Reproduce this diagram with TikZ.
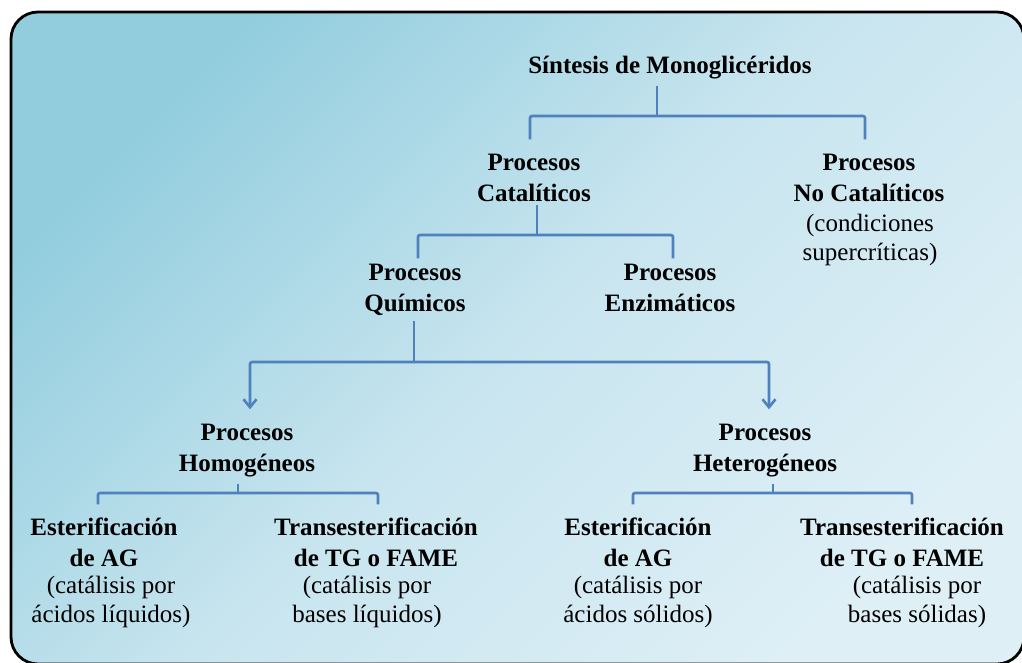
\documentclass[tikz,border=0pt]{standalone}
\usepackage{fontspec}
\setmainfont{Liberation Serif}
\usetikzlibrary{arrows.meta}
\definecolor{conncol}{RGB}{79,129,189}
\definecolor{bgA}{RGB}{146,205,222}
\definecolor{bgM}{RGB}{200,229,239}
\definecolor{bgB}{RGB}{222,239,246}
\begin{document}
\begin{tikzpicture}[x=1pt,y=-1pt,
  boldlbl/.style={font=\fontsize{25}{31}\selectfont\bfseries, align=center, inner sep=0pt, anchor=north},
  reglbl/.style={font=\fontsize{25}{29}\selectfont, align=center, inner sep=0pt, anchor=north},
  conn/.style={draw=conncol, line width=2.6pt, rounded corners=2pt},
  arr/.style={conn, -{Straight Barb[length=8pt,width=13pt]}}]
\useasboundingbox (0,0) rectangle (1022,663);
\begin{scope}
\clip (0,0) rectangle (1022,663);
\shade[top color=bgA, bottom color=bgB, middle color=bgM, shading angle=45, rounded corners=27pt] (11,12) rectangle (1024,664);
\draw[line width=2.8pt, rounded corners=27pt] (11,12) rectangle (1024,664);
\end{scope}

\node[boldlbl] (title) at (670,51.3) {\strut Síntesis de Monoglicéridos};
\node[boldlbl] (cat) at (534,148.3) {\strut Procesos\\\strut Catalíticos};
\node[boldlbl] (nocat) at (869,148.3) {\strut Procesos\\\strut No Catalíticos};
\node[reglbl] (nocatnote) at (870,210.7) {\strut (condiciones\\\strut supercríticas)};
\node[boldlbl] (quim) at (415,258.3) {\strut Procesos\\\strut Químicos};
\node[boldlbl] (enz) at (670,258.3) {\strut Procesos\\\strut Enzimáticos};
\node[boldlbl] (homo) at (247,418.3) {\strut Procesos\\\strut Homogéneos};
\node[boldlbl] (hetero) at (765,418.3) {\strut Procesos\\\strut Heterogéneos};
\node[boldlbl] (estL) at (104,513.3) {\strut Esterificación\\\strut de AG};
\node[reglbl] (estLn) at (111,572.7) {\strut (catálisis por\\\strut ácidos líquidos)};
\node[boldlbl] (traL) at (376,513.3) {\strut Transesterificación\\\strut de TG o FAME};
\node[reglbl] (traLn) at (367,572.7) {\strut (catálisis por\\\strut bases líquidos)};
\node[boldlbl] (estR) at (638,513.3) {\strut Esterificación\\\strut de AG};
\node[reglbl] (estRn) at (638,572.7) {\strut (catálisis por\\\strut ácidos sólidos)};
\node[boldlbl] (traR) at (902,513.3) {\strut Transesterificación\\\strut de TG o FAME};
\node[reglbl] (traRn) at (917,572.7) {\strut (catálisis por\\\strut bases sólidas)};

\coordinate (j1) at (657,116);
\draw[conn] ([xshift=-13pt,yshift=-3pt]title.south) -- (j1);
\draw[conn] ([xshift=-4pt,yshift=9pt]cat.north) |- (j1) -| ([xshift=-4pt,yshift=9pt]nocat.north);

\coordinate (j2) at (537,235);
\draw[conn] ([xshift=3pt,yshift=6pt]cat.south) -- (j2);
\draw[conn] ([xshift=3pt]quim.north) |- (j2) -| ([xshift=3pt]enz.north);

\coordinate (j3) at (414,362);
\draw[conn] ([xshift=-1pt]quim.south) -- (j3);
\draw[arr] (j3) -| ([xshift=3pt,yshift=9pt]homo.north);
\draw[arr] (j3) -| ([xshift=4pt,yshift=9pt]hetero.north);

\coordinate (j4) at (238,493);
\draw[conn] ([xshift=-9pt,yshift=-3pt]homo.south) -- (j4);
\draw[conn] ([xshift=-6pt,yshift=9pt]estL.north) |- (j4) -| ([xshift=2pt,yshift=9pt]traL.north);

\coordinate (j5) at (773,493);
\draw[conn] ([xshift=8pt,yshift=-3pt]hetero.south) -- (j5);
\draw[conn] ([xshift=-5pt,yshift=9pt]estR.north) |- (j5) -| ([xshift=10pt,yshift=9pt]traR.north);
\end{tikzpicture}
\end{document}
